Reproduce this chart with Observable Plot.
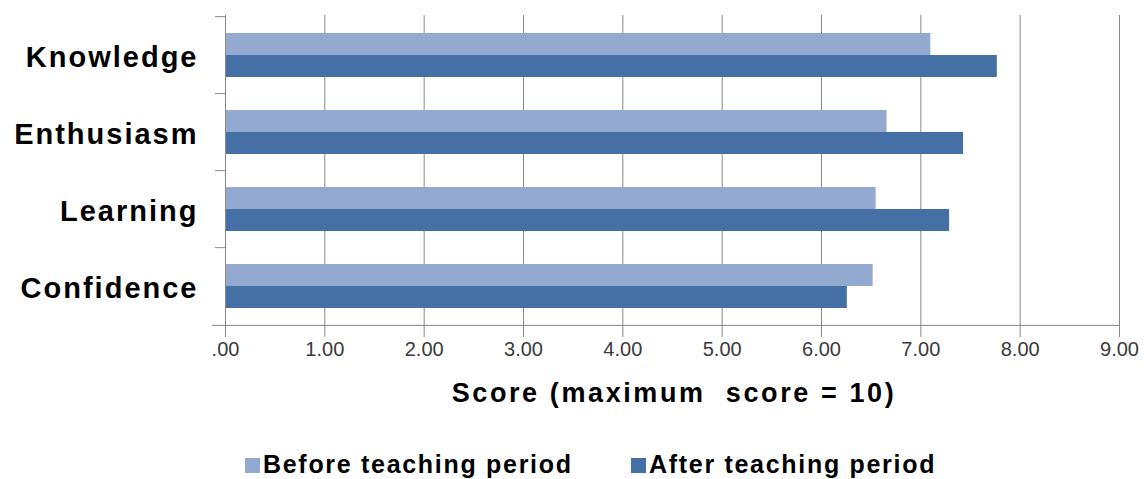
<!DOCTYPE html>
<html>
<head>
<meta charset="utf-8">
<script src="https://cdn.jsdelivr.net/npm/d3@7"></script>
<script src="https://cdn.jsdelivr.net/npm/@observablehq/plot@0.6"></script>
<style>
  body { margin:0; background:#fff; width:1144px; height:479px; position:relative; overflow:hidden;
         font-family:"Liberation Sans", Arial, sans-serif; }
  #chart { position:absolute; left:0; top:0; }
  #chart svg [aria-label="y-axis tick label"] text { letter-spacing:2px; }
  #xtitle { position:absolute; top:380px; left:674px; transform:translateX(-50%);
            font-size:27px; line-height:27px; font-weight:bold; white-space:pre;
            letter-spacing:2.6px; color:#000; }
  .leg { position:absolute; top:452px; font-size:25px; line-height:25px; font-weight:bold;
         letter-spacing:1.7px; color:#000; white-space:nowrap; }
  .sw { position:absolute; width:15px; height:15px; top:458px; }
</style>
</head>
<body>
<div id="chart"></div>
<div id="xtitle"></div>
<div id="legend"></div>
<script>
const categories = ["Knowledge", "Enthusiasm", "Learning", "Confidence"];
const before = [7.10, 6.66, 6.55, 6.52];
const after = [7.77, 7.43, 7.29, 6.26];
const seriesNames = ["Before teaching period", "After teaching period"];
const seriesColors = ["#94a9d0", "#4470a5"];
const xTicks = [0, 1, 2, 3, 4, 5, 6, 7, 8, 9];
const xTickLabels = [".00", "1.00", "2.00", "3.00", "4.00", "5.00", "6.00", "7.00", "8.00", "9.00"];
const xTitle = "Score (maximum  score = 10)";

const beforeData = categories.map((c, i) => ({category: c, value: before[i]}));
const afterData = categories.map((c, i) => ({category: c, value: after[i]}));

const step = 311 / 4;
const half = step * (1 - 0.434) / 2;
const gridColor = "#8a8a8a";

const chart = Plot.plot({
  width: 1144,
  height: 370,
  marginLeft: 225,
  marginRight: 25,
  marginTop: 15,
  marginBottom: 44,
  x: {domain: [0, 9]},
  y: {domain: categories, paddingInner: 0.434, paddingOuter: 0.217},
  marks: [
    Plot.ruleX(xTicks.slice(1), {stroke: gridColor, strokeWidth: 1}),
    Plot.barX(beforeData, {x: "value", y: "category", fill: seriesColors[0], insetBottom: half}),
    Plot.barX(afterData, {x: "value", y: "category", fill: seriesColors[1], insetTop: half}),
    Plot.ruleX([0], {stroke: gridColor, strokeWidth: 1}),
    Plot.ruleY(categories, {y: d => d, dy: -step / 2, x1: 0, x2: 0, insetLeft: -10, stroke: gridColor}),
    Plot.ruleY([categories[categories.length - 1]], {y: d => d, dy: step / 2, x1: 0, x2: 9, insetLeft: -13, stroke: "#86839a"}),
    Plot.axisX({ticks: xTicks, tickFormat: (d) => xTickLabels[xTicks.indexOf(d)], tickSize: 11, tickPadding: 4,
                fontSize: 20, fill: "#3a3a3a", stroke: gridColor, label: null}),
    Plot.axisY({tickSize: 0, tickPadding: 27, fontSize: 29, fontWeight: "bold", fill: "#000", label: null, dy: 2})
  ],
  style: {fontFamily: "'Liberation Sans', Arial, sans-serif", background: "#fff"}
});
document.getElementById("chart").appendChild(chart);
document.getElementById("xtitle").textContent = xTitle;

const legend = document.getElementById("legend");
const legPos = [{sw: 245, tx: 263}, {sw: 631, tx: 649}];
seriesNames.forEach((name, i) => {
  const s = document.createElement("div");
  s.className = "sw";
  s.style.left = legPos[i].sw + "px";
  s.style.background = seriesColors[i];
  legend.appendChild(s);
  const t = document.createElement("div");
  t.className = "leg";
  t.style.left = legPos[i].tx + "px";
  t.textContent = name;
  legend.appendChild(t);
});
</script>
</body>
</html>
